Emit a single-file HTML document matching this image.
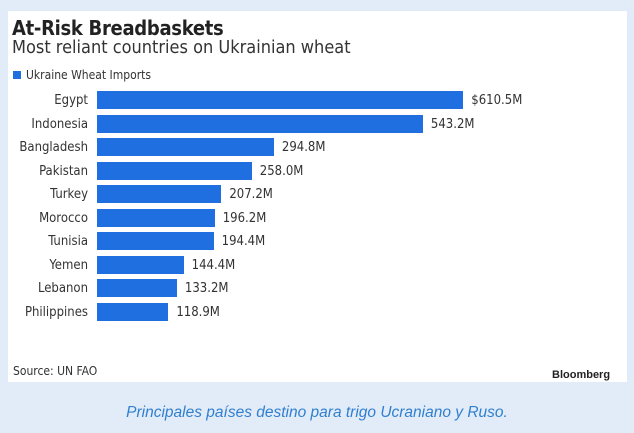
<!DOCTYPE html>
<html><head><style>
body{margin:0;width:634px;height:433px;background:#e2ecf8;position:relative;font-family:"Liberation Sans",sans-serif;overflow:hidden}
.p{position:absolute;left:8px;top:11px;width:619px;height:371px;background:#fff}
.t{position:absolute;left:12px;top:16px;font-size:20px;font-weight:bold;color:#222;font-family:"DejaVu Sans Condensed",sans-serif;letter-spacing:-0.3px}
.s{position:absolute;left:12px;top:37px;font-size:18px;color:#333;font-family:"DejaVu Sans Condensed","Liberation Sans Narrow",sans-serif}
.lg{position:absolute;left:13px;top:68px;font-size:12px;color:#333;font-family:"DejaVu Sans Condensed",sans-serif}
.lg i{display:inline-block;width:8px;height:8px;background:#1f6fe0;margin-right:5px}
.r{position:absolute;height:18px;font-size:13px;color:#333;font-family:"DejaVu Sans Condensed",sans-serif;line-height:20px}
.n{position:absolute;right:546px;text-align:right}
.b{position:absolute;left:97px;height:18px;background:#1f6fe0}
.v{position:absolute}
.src{position:absolute;left:13px;top:364px;font-size:12px;color:#333;font-family:"DejaVu Sans Condensed",sans-serif}
.bl{position:absolute;left:552px;top:369px;font-size:11px;font-weight:bold;color:#222}
.c{position:absolute;left:0;width:634px;top:404px;text-align:center;font-style:italic;font-size:15.5px;color:#2f7fd0}
</style></head><body>
<div class="p"></div>
<div class="t">At-Risk Breadbaskets</div>
<div class="s">Most reliant countries on Ukrainian wheat</div>
<div class="lg"><i></i>Ukraine Wheat Imports</div>
<div id="rows"></div>
<div class="src">Source: UN FAO</div>
<div class="bl">Bloomberg</div>
<div class="c">Principales países destino para trigo Ucraniano y Ruso.</div>
<script>
var d=[["Egypt",610.5,"$610.5M"],["Indonesia",543.2,"543.2M"],["Bangladesh",294.8,"294.8M"],["Pakistan",258.0,"258.0M"],["Turkey",207.2,"207.2M"],["Morocco",196.2,"196.2M"],["Tunisia",194.4,"194.4M"],["Yemen",144.4,"144.4M"],["Lebanon",133.2,"133.2M"],["Philippines",118.9,"118.9M"]];
var h="";d.forEach(function(r,i){var y=91+i*23.5,w=r[1]*0.6;
h+='<div class="r n" style="top:'+y+'px">'+r[0]+'</div><div class="b" style="top:'+y+'px;width:'+w+'px"></div><div class="r v" style="top:'+y+'px;left:'+(97+w+8)+'px">'+r[2]+'</div>';});
document.getElementById("rows").innerHTML=h;
</script>
</body></html>
